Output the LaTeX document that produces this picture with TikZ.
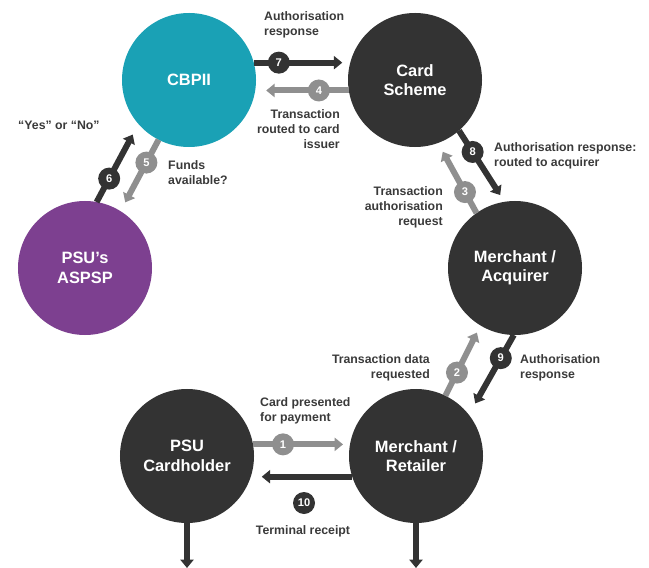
\documentclass[tikz,border=0pt]{standalone}
\usepackage{fontspec}
\setmainfont{Liberation Sans}
\usetikzlibrary{arrows.meta}

\definecolor{cbpiicyan}{RGB}{26,161,181}
\definecolor{aspsppurple}{RGB}{125,64,144}
\definecolor{nodedark}{RGB}{51,51,51}
\definecolor{arrowgrey}{RGB}{143,143,143}
\definecolor{labelgrey}{RGB}{58,58,58}

\tikzset{
  party/.style={circle, minimum size=4.02cm, inner sep=0pt, outer sep=0pt, text=white, align=center, font=\fontsize{14}{16.5}\selectfont\bfseries},
  darkflow/.style={draw=nodedark, line width=0.18cm, -{Triangle[length=0.25cm,width=0.39cm]}},
  greyflow/.style={darkflow, draw=arrowgrey},
  badge/.style={circle, minimum size=0.66cm, inner sep=0pt, text=white, font=\fontsize{9.5}{10}\selectfont\bfseries},
  flowlabel/.style={inner sep=0pt, text=labelgrey, font=\fontsize{10.5}{12.75}\selectfont\bfseries}
}

\begin{document}
\begin{tikzpicture}[x=0.03cm, y=-0.03cm]
\useasboundingbox (0,0) rectangle (649,568);

\node[party, fill=cbpiicyan] (cbpii) at (189,80) {CBPII};
\node[party, fill=nodedark] (scheme) at (415,80) {Card\\Scheme};
\node[party, fill=aspsppurple] (aspsp) at (85,268) {PSU’s\\ASPSP};
\node[party, fill=nodedark] (acquirer) at (515,268) {Merchant /\\Acquirer};
\node[party, fill=nodedark] (holder) at (187,456) {PSU\\Cardholder};
\node[party, fill=nodedark] (retailer) at (416,456) {Merchant /\\Retailer};

\draw[greyflow, shorten >=0.21cm] (holder.10) -- node[badge, fill=arrowgrey, pos=0.31] (step1) {1} (retailer.170);
\draw[greyflow, shorten >=0.24cm] (retailer.64) -- node[badge, fill=arrowgrey, pos=0.33] (step2) {2} (acquirer.239);
\draw[greyflow, shorten >=0.3cm] (acquirer.125) -- node[badge, fill=arrowgrey, pos=0.3] (step3) {3} (scheme.290);
\draw[greyflow, shorten >=0.33cm] (scheme.189) -- node[badge, fill=arrowgrey, pos=0.32] (step4) {4} (cbpii.351);
\draw[greyflow, shorten >=0.3cm] (cbpii.243) -- node[badge, fill=arrowgrey, pos=0.32] (step5) {5} (aspsp.58);
\draw[darkflow, shorten >=0.36cm] (aspsp.80) -- node[badge, fill=nodedark, pos=0.3] (step6) {6} (cbpii.221);
\draw[darkflow, shorten >=0.24cm] (cbpii.15) -- node[badge, fill=nodedark, pos=0.26] (step7) {7} (scheme.165);
\draw[darkflow, shorten >=0.24cm] (scheme.311) -- node[badge, fill=nodedark, pos=0.3] (step8) {8} (acquirer.99);
\draw[darkflow, shorten >=0.39cm] (acquirer.269) -- node[badge, fill=nodedark, pos=0.29] (step9) {9} (retailer.38);
\draw[darkflow, shorten >=0.33cm] (retailer.198) -- (holder.342);
\node[badge, fill=nodedark] (step10) at (304,503) {10};

\coordinate (holderout) at (187,568);
\coordinate (retailerout) at (416,568);
\draw[darkflow] (holder.south) -- (holderout);
\draw[darkflow] (retailer.south) -- (retailerout);

\node[flowlabel, anchor=north west, align=left] (lbl7) at (264,11) {Authorisation\\response};
\node[flowlabel, anchor=north east, align=right] (lbl4) at (340,109) {Transaction\\routed to card\\issuer};
\node[flowlabel, anchor=north west] (lbl6) at (18,121) {“Yes” or “No”};
\node[flowlabel, anchor=north west, align=left] (lbl5) at (168,160) {Funds\\available?};
\node[flowlabel, anchor=north west, align=left] (lbl8) at (494,142) {Authorisation response:\\routed to acquirer};
\node[flowlabel, anchor=north east, align=right] (lbl3) at (443,186) {Transaction\\authorisation\\request};
\node[flowlabel, anchor=north east, align=right] (lbl2) at (430,354) {Transaction data\\requested};
\node[flowlabel, anchor=north west, align=left] (lbl9) at (520,354) {Authorisation\\response};
\node[flowlabel, anchor=north west, align=left] (lbl1) at (260,397) {Card presented\\for payment};
\node[flowlabel, anchor=north] (lbl10) at (303,525) {Terminal receipt};
\end{tikzpicture}
\end{document}
